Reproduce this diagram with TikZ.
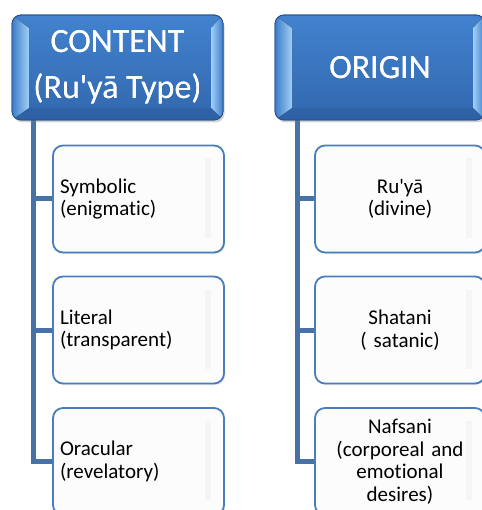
\documentclass[tikz,border=0pt]{standalone}
\usepackage{fontspec}
\setmainfont{Carlito}[Ligatures={TeXOff,NoCommon}]
\usetikzlibrary{shadows,calc,backgrounds}
\definecolor{hdrtop}{RGB}{66,130,206}
\definecolor{hdrbot}{RGB}{50,104,175}
\definecolor{hdrborder}{RGB}{40,82,140}
\definecolor{bevlight}{RGB}{160,208,248}
\definecolor{bevmid}{RGB}{62,124,200}
\definecolor{bevdark}{RGB}{42,92,158}
\definecolor{childborder}{RGB}{74,126,187}
\definecolor{childfill}{RGB}{252,252,253}
\definecolor{conncol}{RGB}{70,114,168}
\definecolor{stripecol}{RGB}{245,245,247}
\begin{document}
\begin{tikzpicture}[x=1pt,y=-1pt,
  hdr/.style={rounded corners=9pt, minimum width=211pt, minimum height=105pt,
    top color=hdrtop, bottom color=hdrbot, draw=hdrborder, line width=0.8pt,
    text=white, align=center, font=\fontsize{34}{46}\selectfont,
    inner sep=0pt, outer sep=0pt,
    drop shadow={opacity=0.35, shadow xshift=1.5pt, shadow yshift=-2.5pt}},
  hdrtext/.style={text=white, align=center, font=\fontsize{34}{46}\selectfont, inner sep=0pt},
  childbox/.style={rounded corners=10pt, draw=childborder, line width=1.8pt,
    fill=childfill, minimum width=171pt, minimum height=107pt,
    inner sep=0pt, outer sep=0pt, font=\fontsize{21}{22.5}\selectfont,
    drop shadow={opacity=0.2, shadow xshift=1pt, shadow yshift=-1.5pt}},
  lchild/.style={childbox, text width=157pt, align=left},
  rchild/.style={childbox, minimum width=170pt, text width=156pt, align=center},
  conn/.style={draw=conncol, line width=5pt, line join=miter},
  stripe/.style={fill=stripecol}
]
\useasboundingbox (0,0) rectangle (481,510);

% headers
\node[hdr] (h1) at (117.5,67.5) {CONTENT\\(Ru'yā Type)};
\node[hdr, minimum width=210pt] (h2) at (380,67.5) {ORIGIN};
\foreach \h in {h1,h2}{
  \begin{scope}
    \clip[rounded corners=9pt] (\h.north west) rectangle (\h.south east);
    \fill[left color=bevmid, right color=bevlight]
      (\h.north west) -- ([shift={(17,13)}]\h.north west)
      -- ([shift={(17,-12)}]\h.south west) -- (\h.south west) -- cycle;
    \fill[left color=bevlight, right color=bevmid]
      (\h.north east) -- ([shift={(-12,13)}]\h.north east)
      -- ([shift={(-12,-12)}]\h.south east) -- (\h.south east) -- cycle;
    \fill[bevdark, opacity=0.5]
      (\h.south west) -- ([shift={(17,-12)}]\h.south west)
      -- ([shift={(-12,-12)}]\h.south east) -- (\h.south east) -- cycle;
  \end{scope}
  \draw[hdrborder, line width=0.8pt, rounded corners=9pt]
    (\h.north west) rectangle (\h.south east);
}
\node[hdrtext] at (h1) {CONTENT\\(Ru'yā Type)};
\node[hdrtext] at (h2) {ORIGIN};

% children, left column
\node[lchild] (c1) at (138.5,199) {Symbolic\\(enigmatic)};
\node[lchild] (c2) at (138.5,330) {Literal\\(transparent)};
\node[lchild] (c3) at (138.5,461.5) {Oracular\\(revelatory)};
% children, right column
\node[rchild] (d1) at (400,199) {Ru'yā\\(divine)};
\node[rchild] (d2) at (400,330) {Shatani\\( satanic)};
\node[rchild] (d3) at (400,461.5) {Nafsani\\(corporeal and\\emotional\\desires)};

\foreach \c in {c1,c2,c3,d1,d2,d3}{
  \fill[stripe] ([shift={(-19,13)}]\c.north east) rectangle ([shift={(-13,-15)}]\c.south east);
}

% connectors
\coordinate (lc) at (h1.south -| 33,0);
\coordinate (rc) at (h2.south -| 297,0);
\begin{scope}[on background layer]
\draw[conn] (lc) |- (c1.west);
\draw[conn] (lc) |- (c2.west);
\draw[conn] (lc) |- (c3.west);
\draw[conn] (rc) |- (d1.west);
\draw[conn] (rc) |- (d2.west);
\draw[conn] (rc) |- (d3.west);
\end{scope}
\end{tikzpicture}
\end{document}
